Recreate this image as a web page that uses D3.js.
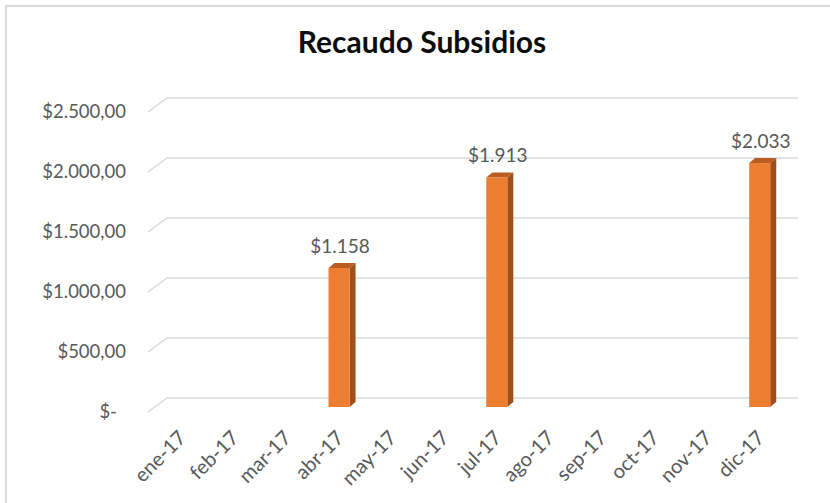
<!DOCTYPE html>
<html>
<head>
<meta charset="utf-8">
<script src="https://cdn.jsdelivr.net/npm/d3@7"></script>
<style>
  body { margin: 0; background: #fff; }
  svg { display: block; font-family: Lato, "Open Sans", sans-serif; }
</style>
</head>
<body>
<div id="chart"></div>
<script>
// data
var months = ["ene-17", "feb-17", "mar-17", "abr-17", "may-17", "jun-17",
              "jul-17", "ago-17", "sep-17", "oct-17", "nov-17", "dic-17"];
var recaudo = [null, null, null, 1158, null, null, 1913, null, null, null, null, 2033];
var yTicks = [0, 500, 1000, 1500, 2000, 2500];
var yTickLabels = ["$-", "$500,00", "$1.000,00", "$1.500,00", "$2.000,00", "$2.500,00"];
var title = "Recaudo Subsidios";

var width = 830, height = 503;

// back wall of the 3d plot area
var back = { left: 167, right: 798, top: 98, bottom: 398 };
// floor depth: front edge is shifted left/down from the back wall
var depth = { dx: -19, dy: 14 };
// bars stand at this offset from the back wall
var barOff = { dx: -12, dy: 9 };
var barSide = { dx: 6, dy: -5 };

var es = d3.formatLocale({ decimal: ",", thousands: ".", grouping: [3], currency: ["$", ""] });
var fmtLabel = es.format("$,.0f");

var svg = d3.select("#chart").append("svg")
    .attr("width", width)
    .attr("height", height);

// chart border (only top/left visible in the crop)
svg.append("rect")
    .attr("x", 6).attr("y", 6)
    .attr("width", width + 20).attr("height", height + 20)
    .attr("fill", "#fff")
    .attr("stroke", "#d9d9d9")
    .attr("stroke-width", 2);

var x = d3.scaleBand()
    .domain(months)
    .range([back.left, back.right]);

var y = d3.scaleLinear()
    .domain([0, 2500])
    .range([back.bottom, back.top]);

// gridlines: diagonal on the left side wall, then straight across the back wall
var grid = svg.append("g");
yTicks.forEach(function(t) {
    var yy = y(t);
    grid.append("path")
        .attr("d", "M" + (back.left + depth.dx) + "," + (yy + depth.dy) +
                   "L" + back.left + "," + yy + "L" + back.right + "," + yy)
        .attr("fill", "none")
        .attr("stroke", "#d9d9d9")
        .attr("stroke-width", 1.5);
});

// y labels sit at the front edge
svg.append("g").selectAll("text")
    .data(yTicks)
    .enter().append("text")
    .attr("x", (d, i) => d === 0 ? 117 : 126)
    .attr("y", d => y(d) + depth.dy)
    .attr("dy", "0.35em")
    .attr("text-anchor", "end")
    .attr("fill", "#595959")
    .style("font-size", "18.5px")
    .text((d, i) => yTickLabels[i]);

// bars
var barW = x.bandwidth() * 0.4;
var data = months.map((m, i) => ({ month: m, value: recaudo[i] }))
    .filter(d => d.value !== null);

var bars = svg.append("g").selectAll("g")
    .data(data)
    .enter().append("g");

function fx(d) { return x(d.month) + x.bandwidth() / 2 - barW / 2 + barOff.dx; }
function fy0() { return y(0) + barOff.dy; }
function fy1(d) { return y(d.value) + barOff.dy; }

// side face
bars.append("path")
    .attr("d", function(d) {
        var r = fx(d) + barW;
        return "M" + r + "," + fy1(d) + "L" + (r + barSide.dx) + "," + (fy1(d) + barSide.dy) +
               "L" + (r + barSide.dx) + "," + (fy0() + barSide.dy) + "L" + r + "," + fy0() + "Z";
    })
    .attr("fill", "#9e4f1c");

// top face
bars.append("path")
    .attr("d", function(d) {
        var l = fx(d), t = fy1(d);
        return "M" + l + "," + t + "L" + (l + barSide.dx) + "," + (t + barSide.dy) +
               "L" + (l + barW + barSide.dx) + "," + (t + barSide.dy) + "L" + (l + barW) + "," + t + "Z";
    })
    .attr("fill", "#b95d21");

// front face
bars.append("rect")
    .attr("x", fx)
    .attr("y", fy1)
    .attr("width", barW)
    .attr("height", d => fy0() - fy1(d))
    .attr("fill", "#ed7d31");

// value labels
bars.append("text")
    .attr("x", d => fx(d) + barW / 2 + 1)
    .attr("y", d => fy1(d) - 15)
    .attr("text-anchor", "middle")
    .attr("fill", "#595959")
    .style("font-size", "19px")
    .text(d => fmtLabel(d.value));

// x labels, rotated
svg.append("g").selectAll("text")
    .data(months)
    .enter().append("text")
    .attr("transform", function(m) {
        var cx = x(m) + x.bandwidth() / 2 + barOff.dx;
        return "translate(" + (cx + 6) + "," + 439 + ") rotate(-45)";
    })
    .attr("text-anchor", "end")
    .attr("fill", "#595959")
    .style("font-size", "20px")
    .text(m => m);

// title
svg.append("text")
    .attr("x", 422)
    .attr("y", 53)
    .attr("text-anchor", "middle")
    .attr("fill", "#0d0d0d")
    .style("font-size", "30px")
    .style("font-weight", "bold")
    .text(title);
</script>
</body>
</html>
